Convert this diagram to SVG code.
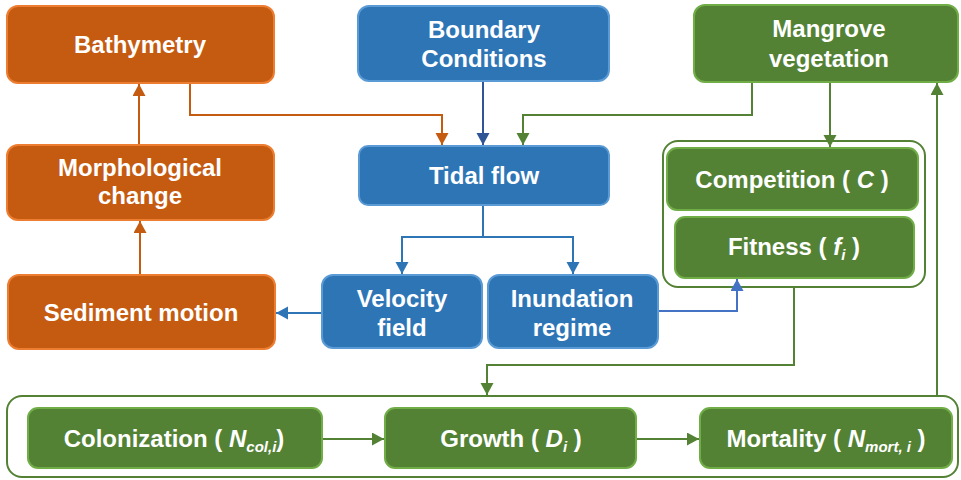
<svg xmlns="http://www.w3.org/2000/svg" width="961" height="480" viewBox="0 0 961 480">
<defs>
<style>
.t{font-family:"Liberation Sans",Arial,sans-serif;font-weight:bold;font-size:24px;fill:#fff;text-anchor:middle}
.sub{font-size:15px;font-style:italic}
.it{font-style:italic}
.or{fill:#C55A11;stroke:#ED7D31;stroke-width:2}
.bl{fill:#2E75B6;stroke:#5B9BD5;stroke-width:2}
.gr{fill:#548235;stroke:#70AD47;stroke-width:2}
.ct{fill:#fff;stroke:#548235;stroke-width:2}
.c{fill:none;stroke-width:2}
</style>
<marker id="aO" markerUnits="userSpaceOnUse" markerWidth="14" markerHeight="14" refX="12" refY="6.5" orient="auto"><path d="M0,0 L12,6.5 L0,13 z" fill="#C55A11"/></marker>
<marker id="aD" markerUnits="userSpaceOnUse" markerWidth="14" markerHeight="14" refX="12" refY="6.5" orient="auto"><path d="M0,0 L12,6.5 L0,13 z" fill="#2F5597"/></marker>
<marker id="aB" markerUnits="userSpaceOnUse" markerWidth="14" markerHeight="14" refX="12" refY="6.5" orient="auto"><path d="M0,0 L12,6.5 L0,13 z" fill="#2E75B6"/></marker>
<marker id="aL" markerUnits="userSpaceOnUse" markerWidth="14" markerHeight="14" refX="12" refY="6.5" orient="auto"><path d="M0,0 L12,6.5 L0,13 z" fill="#4472C4"/></marker>
<marker id="aG" markerUnits="userSpaceOnUse" markerWidth="14" markerHeight="14" refX="12" refY="6.5" orient="auto"><path d="M0,0 L12,6.5 L0,13 z" fill="#548235"/></marker>
</defs>

<g id="veg-container"><rect class="ct" x="663" y="141" width="262" height="146" rx="15"/></g>
<g id="life-container"><rect class="ct" x="7" y="396" width="951" height="81" rx="15"/></g>

<g id="connectors">
<polyline class="c" stroke="#C55A11" points="190,83 190,115 442,115 442,145" marker-end="url(#aO)"/>
<line class="c" stroke="#C55A11" x1="139" y1="145" x2="139" y2="84" marker-end="url(#aO)"/>
<line class="c" stroke="#C55A11" x1="140" y1="275" x2="140" y2="221" marker-end="url(#aO)"/>
<line class="c" stroke="#2F5597" x1="483" y1="81" x2="483" y2="145" marker-end="url(#aD)"/>
<polyline class="c" stroke="#548235" points="752,82 752,115 523,115 523,145" marker-end="url(#aG)"/>
<line class="c" stroke="#548235" x1="830" y1="82" x2="830" y2="147" marker-end="url(#aG)"/>
<polyline class="c" stroke="#2E75B6" points="483,205 483,237 402,237 402,274" marker-end="url(#aB)"/>
<polyline class="c" stroke="#2E75B6" points="483,237 573,237 573,274" marker-end="url(#aB)"/>
<line class="c" stroke="#2E75B6" x1="322" y1="313" x2="276" y2="313" marker-end="url(#aB)"/>
<polyline class="c" stroke="#4472C4" points="658,311 737,311 737,279" marker-end="url(#aL)"/>
<polyline class="c" stroke="#548235" points="794,287 794,365 487,365 487,395" marker-end="url(#aG)"/>
<line class="c" stroke="#548235" x1="937" y1="396" x2="937" y2="83" marker-end="url(#aG)"/>
<line class="c" stroke="#548235" x1="322" y1="439" x2="384" y2="439" marker-end="url(#aG)"/>
<line class="c" stroke="#548235" x1="636" y1="439" x2="699" y2="439" marker-end="url(#aG)"/>
</g>

<g id="bathymetry"><rect class="or" x="7" y="6" width="267" height="77" rx="11"/><text class="t" x="140" y="53">Bathymetry</text></g>
<g id="morphological-change"><rect class="or" x="7" y="145" width="267" height="75" rx="11"/><text class="t" x="140" y="176">Morphological<tspan x="140" dy="28">change</tspan></text></g>
<g id="sediment-motion"><rect class="or" x="8" y="275" width="267" height="74" rx="11"/><text class="t" x="141" y="321">Sediment motion</text></g>

<g id="boundary-conditions"><rect class="bl" x="358" y="6" width="251" height="75" rx="11"/><text class="t" x="484" y="38">Boundary<tspan x="484" dy="29">Conditions</tspan></text></g>
<g id="tidal-flow"><rect class="bl" x="359" y="146" width="250" height="59" rx="9"/><text class="t" x="484" y="184">Tidal flow</text></g>
<g id="velocity-field"><rect class="bl" x="322" y="275" width="160" height="73" rx="11"/><text class="t" x="402" y="307">Velocity<tspan x="402" dy="29">field</tspan></text></g>
<g id="inundation-regime"><rect class="bl" x="488" y="275" width="170" height="73" rx="11"/><text class="t" x="572" y="307">Inundation<tspan x="572" dy="29">regime</tspan></text></g>

<g id="mangrove-vegetation"><rect class="gr" x="694" y="5" width="264" height="77" rx="11"/><text class="t" x="829" y="37">Mangrove<tspan x="829" dy="30">vegetation</tspan></text></g>
<g id="competition"><rect class="gr" x="667" y="148" width="251" height="62" rx="10"/><text class="t" x="792" y="188">Competition ( <tspan class="it">C</tspan> )</text></g>
<g id="fitness"><rect class="gr" x="675" y="217" width="239" height="61" rx="10"/><text class="t" x="794" y="255">Fitness ( <tspan class="it">f</tspan><tspan class="sub" dy="5">i</tspan><tspan dy="-5"> )</tspan></text></g>

<g id="colonization"><rect class="gr" x="28" y="408" width="294" height="60" rx="10"/><text class="t" x="174" y="447">Colonization ( <tspan class="it">N</tspan><tspan class="sub" dy="5">col,i</tspan><tspan dy="-5">)</tspan></text></g>
<g id="growth"><rect class="gr" x="385" y="408" width="251" height="60" rx="10"/><text class="t" x="511" y="447">Growth ( <tspan class="it">D</tspan><tspan class="sub" dy="5">i</tspan><tspan dy="-5"> )</tspan></text></g>
<g id="mortality"><rect class="gr" x="700" y="408" width="252" height="60" rx="10"/><text class="t" x="826" y="447">Mortality ( <tspan class="it">N</tspan><tspan class="sub" dy="5">mort, i</tspan><tspan dy="-5"> )</tspan></text></g>
</svg>
